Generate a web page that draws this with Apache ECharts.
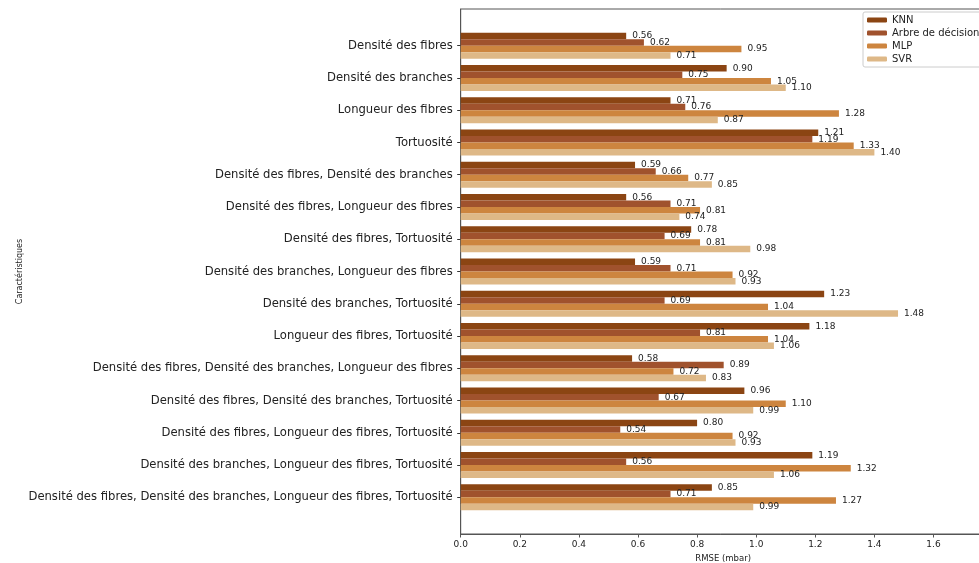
<!DOCTYPE html>
<html>
<head>
<meta charset="utf-8">
<title>RMSE par caractéristiques</title>
<script src="https://cdn.jsdelivr.net/npm/echarts@6/dist/echarts.min.js"></script>
<style>
  html, body { margin: 0; padding: 0; background: #fff; }
  #chart { width: 979px; height: 563px; }
</style>
</head>
<body>
<div id="chart"></div>
<script>
// Feature combinations (top to bottom)
const categories = [
  'Densité des fibres',
  'Densité des branches',
  'Longueur des fibres',
  'Tortuosité',
  'Densité des fibres, Densité des branches',
  'Densité des fibres, Longueur des fibres',
  'Densité des fibres, Tortuosité',
  'Densité des branches, Longueur des fibres',
  'Densité des branches, Tortuosité',
  'Longueur des fibres, Tortuosité',
  'Densité des fibres, Densité des branches, Longueur des fibres',
  'Densité des fibres, Densité des branches, Tortuosité',
  'Densité des fibres, Longueur des fibres, Tortuosité',
  'Densité des branches, Longueur des fibres, Tortuosité',
  'Densité des fibres, Densité des branches, Longueur des fibres, Tortuosité'
];

// RMSE (mbar) per model
const knn   = [0.56, 0.90, 0.71, 1.21, 0.59, 0.56, 0.78, 0.59, 1.23, 1.18, 0.58, 0.96, 0.80, 1.19, 0.85];
const arbre = [0.62, 0.75, 0.76, 1.19, 0.66, 0.71, 0.69, 0.71, 0.69, 0.81, 0.89, 0.67, 0.54, 0.56, 0.71];
const mlp   = [0.95, 1.05, 1.28, 1.33, 0.77, 0.81, 0.81, 0.92, 1.04, 1.04, 0.72, 1.10, 0.92, 1.32, 1.27];
const svr   = [0.71, 1.10, 0.87, 1.40, 0.85, 0.74, 0.98, 0.93, 1.48, 1.06, 0.83, 0.99, 0.93, 1.06, 0.99];

const modelNames = ['KNN', 'Arbre de décision', 'MLP', 'SVR'];
const modelValues = [knn, arbre, mlp, svr];
const modelColors = ['#8B4513', '#A0522D', '#CD853F', '#DEB887'];

const xMax = 1.776;
const font = 'DejaVu Sans';

// plot area: the RMSE axis runs a little past the right edge of the page
const plotLeft = 460.7;
const plotWidth = 524.8;

const chart = echarts.init(document.getElementById('chart'), null, { renderer: 'canvas' });

const series = modelNames.map((name, i) => ({
  name: name,
  type: 'bar',
  xAxisIndex: 0,
  yAxisIndex: 0,
  data: modelValues[i],
  barGap: '0%',
  barCategoryGap: '20%',
  itemStyle: { color: modelColors[i] },
  label: {
    show: true,
    position: 'right',
    distance: 6,
    fontFamily: font,
    fontSize: 9,
    color: '#222',
    formatter: p => p.value.toFixed(2)
  },
  emphasis: { disabled: true }
}));

chart.setOption({
  animation: false,
  textStyle: { fontFamily: font },
  legend: {
    data: modelNames,
    orient: 'vertical',
    left: 863,
    top: 12,
    padding: [3, 4, 3, 4],
    itemWidth: 20,
    itemHeight: 5,
    itemGap: 3,
    backgroundColor: 'rgba(255,255,255,0.8)',
    borderColor: '#cccccc',
    borderWidth: 1,
    borderRadius: 2,
    textStyle: { fontFamily: font, fontSize: 10, color: '#222', lineHeight: 10 },
    itemStyle: { borderWidth: 0 }
  },
  grid: [
    // bars: band layout matching the padded category range
    { left: plotLeft, width: plotWidth, top: 29.6, bottom: 49.6, show: false, outerBoundsMode: 'none' },
    // frame with the RMSE axis
    { left: plotLeft, width: plotWidth, top: 9, bottom: 29, show: true, borderColor: '#555', borderWidth: 1, backgroundColor: 'transparent', outerBoundsMode: 'none' }
  ],
  xAxis: [
    { gridIndex: 0, type: 'value', min: 0, max: xMax, show: false },
    {
      gridIndex: 1, type: 'value', min: 0, max: xMax, interval: 0.2,
      name: 'RMSE (mbar)', nameLocation: 'middle', nameGap: 17,
      nameTextStyle: { fontFamily: font, fontSize: 8.5, color: '#222' },
      axisLine: { show: true, lineStyle: { color: '#555', width: 1 } },
      axisTick: { show: true, length: 3.5, lineStyle: { color: '#555' } },
      axisLabel: {
        fontFamily: font, fontSize: 9, color: '#222', margin: 6,
        showMaxLabel: false,
        formatter: v => v.toFixed(1)
      },
      splitLine: { show: false }
    }
  ],
  yAxis: [
    {
      gridIndex: 0, type: 'category', data: categories, inverse: true,
      axisLine: { show: false },
      axisTick: { show: true, alignWithLabel: true, length: 3.5, lineStyle: { color: '#333' } },
      axisLabel: { fontFamily: font, fontSize: 11.6, color: '#222', margin: 8 },
      splitLine: { show: false }
    },
    {
      gridIndex: 1, type: 'value', min: 0, max: 1,
      name: 'Caractéristiques', nameLocation: 'middle', nameGap: 437,
      nameTextStyle: { fontFamily: font, fontSize: 8, color: '#222' },
      axisLine: { show: true, lineStyle: { color: '#555', width: 1 } },
      axisTick: { show: false },
      axisLabel: { show: false },
      splitLine: { show: false }
    }
  ],
  series: series
});
</script>
</body>
</html>
